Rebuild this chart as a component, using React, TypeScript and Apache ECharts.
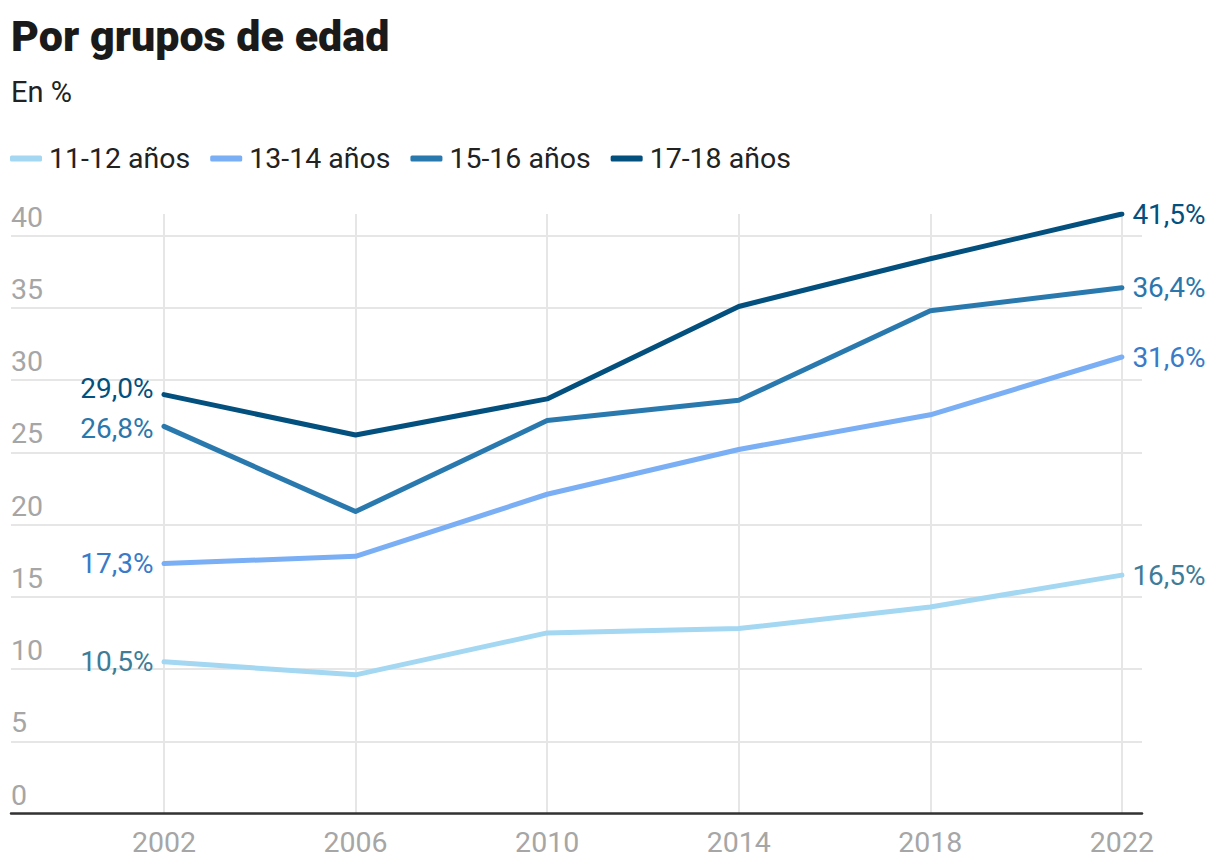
import React, { useEffect, useRef } from "react";
import * as echarts from "echarts";

const years = [2002, 2006, 2010, 2014, 2018, 2022];
const seriesNames = ["11-12 años", "13-14 años", "15-16 años", "17-18 años"];
const v11_12 = [10.5, 9.6, 12.5, 12.8, 14.3, 16.5];
const v13_14 = [17.3, 17.8, 22.1, 25.2, 27.6, 31.6];
const v15_16 = [26.8, 20.9, 27.2, 28.6, 34.8, 36.4];
const v17_18 = [29.0, 26.2, 28.7, 35.1, 38.4, 41.5];
const yTicks = [0, 5, 10, 15, 20, 25, 30, 35, 40];

const lineColors = ["#a3d7f2", "#7aaef5", "#2a79ae", "#03507f"];
const labelColors = ["#3f7c98", "#3a7ac8", "#2a77ad", "#03507f"];
const firstLabelOffsets = [[0, 0], [0, 0], [0, 2], [0, -6]];

const FONT = "Roboto, 'Noto Sans', sans-serif";

function fmt(v: number) {
  return v.toFixed(1).replace(".", ",") + "%";
}

export default function App() {
  const ref = useRef<HTMLDivElement>(null);
  useEffect(() => {
    if (!ref.current) return;
    const chart = echarts.init(ref.current, null, { renderer: "svg" });
    const allValues = [v11_12, v13_14, v15_16, v17_18];
    const series = allValues.map((vals, si) => ({
      name: seriesNames[si],
      type: "line",
      symbol: "circle",
      symbolSize: 3,
      itemStyle: { color: lineColors[si] },
      lineStyle: { color: lineColors[si], width: 5, cap: "round", join: "round" },
      emphasis: { disabled: true },
      z: 3 + si,
      data: years.map((y, i) => {
        const d: any = { value: [y, vals[i]] };
        if (i === 0 || i === years.length - 1) {
          d.label = {
            show: true,
            position: i === 0 ? "left" : "right",
            distance: 9,
            offset: i === 0 ? firstLabelOffsets[si] : [0, 0],
            formatter: () => fmt(vals[i]),
            color: labelColors[si],
            fontSize: 28,
            fontFamily: FONT,
          };
        }
        return d;
      }),
    }));

    chart.setOption({
      animation: false,
      textStyle: { fontFamily: FONT },
      title: [
        {
          text: "Por grupos de edad",
          left: 11,
          top: 14,
          padding: 0,
          textStyle: { fontSize: 43, fontWeight: 900, color: "#1a1a1a", fontFamily: FONT },
        },
        {
          text: "En %",
          left: 11,
          top: 77,
          padding: 0,
          textStyle: { fontSize: 29, fontWeight: "normal", color: "#222", fontFamily: FONT },
        },
      ],
      legend: {
        data: seriesNames,
        left: 10,
        top: 144,
        padding: 0,
        icon: "roundRect",
        itemWidth: 32,
        itemHeight: 6,
        itemGap: 20,
        textStyle: { fontSize: 28.5, color: "#222", fontFamily: FONT, padding: [0, 0, 0, 2] },
      },
      grid: { left: 11, right: 78, top: 214, bottom: 52.5 },
      xAxis: {
        type: "value",
        min: 1998.806,
        max: 2022.42,
        axisLine: { show: true, onZero: false, lineStyle: { color: "#333", width: 2.5 } },
        axisTick: { show: false, customValues: years },
        axisLabel: {
          customValues: years,
          formatter: (v: number) => String(v),
          color: "#a6a6a6",
          fontSize: 28.5,
          margin: 14,
          fontFamily: FONT,
        },
        splitLine: { show: true, lineStyle: { color: "#e6e6e6", width: 2 } },
      },
      yAxis: {
        type: "value",
        min: 0,
        max: 41.5,
        axisLine: { show: false },
        axisTick: { show: false, customValues: yTicks },
        axisLabel: {
          customValues: yTicks,
          inside: true,
          margin: 0,
          align: "left",
          verticalAlign: "bottom",
          padding: [0, 0, 4, 0],
          color: "#a6a6a6",
          fontSize: 28.5,
          fontFamily: FONT,
        },
        splitLine: { show: true, lineStyle: { color: "#e6e6e6", width: 2 } },
      },
      series,
    });
    return () => chart.dispose();
  }, []);
  return (
    <div
      ref={ref}
      style={{ position: "absolute", left: 0, top: 0, width: 1220, height: 866, background: "#fff" }}
    />
  );
}
